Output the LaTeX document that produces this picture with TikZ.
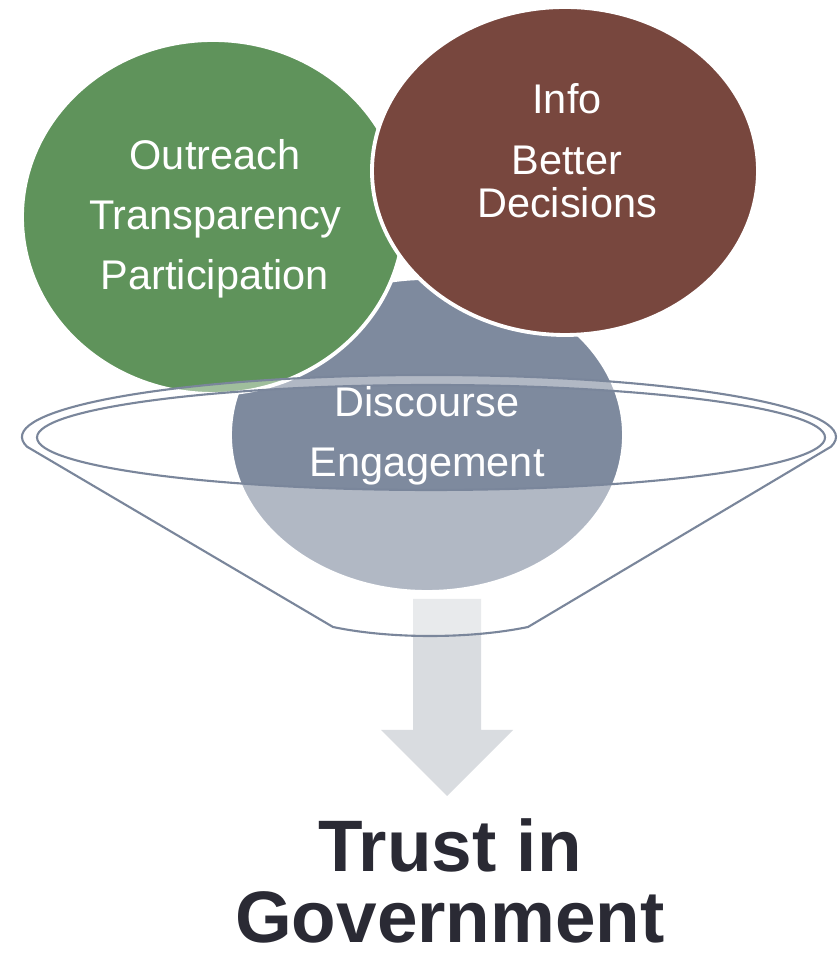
\documentclass[tikz,border=0pt]{standalone}
\usepackage{fontspec}
\setmainfont{Liberation Sans}
\definecolor{greenc}{RGB}{95,147,91}
\definecolor{brownc}{RGB}{120,71,62}
\definecolor{greyc}{RGB}{126,138,158}
\definecolor{funnelc}{RGB}{122,134,155}
\definecolor{arrowc}{RGB}{217,220,224}
\definecolor{trustc}{RGB}{42,42,52}
\begin{document}
\begin{tikzpicture}[x=0.02cm,y=0.02cm,
  circ/.style={draw=white,line width=2.2pt},
  lbl/.style={text=white,font=\fontsize{23.6}{28}\selectfont,anchor=base,inner sep=0pt},
  big/.style={text=trustc,font=\fontsize{41.5}{48}\selectfont\bfseries,anchor=base,inner sep=0pt},
  funnelline/.style={draw=funnelc,line width=1.2pt,line join=round}]
\useasboundingbox (0,0) rectangle (838,955);
\fill[white] (0,0) rectangle (838,955);
% circles
\draw[circ,fill=greyc] (427,520) ellipse [x radius=197,y radius=157];
\draw[circ,fill=greenc] (213,738) ellipse [x radius=191,y radius=177];
\draw[circ,fill=brownc] (565,784) ellipse [x radius=193,y radius=164];
% arrow
\fill[arrowc] (413,356) -- (481,356) -- (481,225) -- (513,225) -- (447,159) -- (381,225) -- (413,225) -- cycle;
% funnel
\path[funnelline,fill=white,fill opacity=0.4,even odd rule]
  (27,508.3) arc[start angle=189,end angle=-9,x radius=407,y radius=62]
  -- (528,328) .. controls (470,316) and (390,316) .. (333,328) -- cycle
  (431,517.5) ellipse [x radius=394,y radius=52.5];
% labels
\node[lbl] (out) at (215,785) {Outreach};
\node[lbl] (tra) at (215,725) {Transparency};
\node[lbl] (par) at (215,665) {Participation};
\node[lbl] (inf) at (567,841) {Info};
\node[lbl] (bet) at (567,780) {Better};
\node[lbl] (dec) at (567,737) {Decisions};
\node[lbl] (dis) at (427,538) {Discourse};
\node[lbl] (eng) at (427,478) {Engagement};
\node[big] (tru) at (450,83) {Trust in};
\node[big] (gov) at (450,12) {Government};
\end{tikzpicture}
\end{document}
